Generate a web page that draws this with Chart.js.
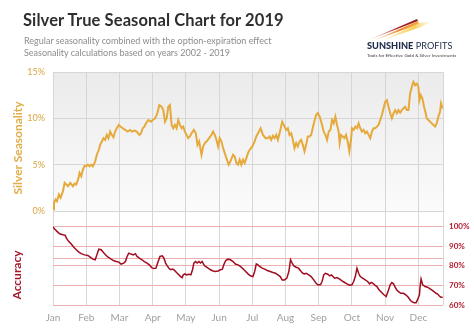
<!DOCTYPE html>
<html>
<head>
<meta charset="utf-8">
<script src="https://cdn.jsdelivr.net/npm/chart.js@4.4.1/dist/chart.umd.min.js"></script>
<style>
  html, body { margin: 0; padding: 0; background: #fff; }
  #wrap { position: relative; width: 474px; height: 332px; overflow: hidden; font-family: Lato, "Open Sans", sans-serif; }
  canvas { position: absolute; left: 0; top: 0; }
  .txt { position: absolute; white-space: nowrap; z-index: 5; }
  #title { left: 23px; top: 10px; font-size: 16.5px; font-weight: 700; color: #2f2f2f; letter-spacing: 0.1px; }
  #sub1 { left: 24px; top: 35px; font-size: 9px; color: #8c8c8c; }
  #sub2 { left: 24px; top: 47px; font-size: 9px; color: #8c8c8c; }
  .axisTitle { position: absolute; white-space: nowrap; font-weight: 700; transform: translate(-50%, -50%) rotate(-90deg); z-index: 5; }
  #seasonTitle { left: 17px; top: 148px; font-size: 12px; color: #e2ae4c; }
  #accTitle { left: 16px; top: 275px; font-size: 12px; color: #a3192d; }
  #logo { position: absolute; left: 360px; top: 10px; width: 114px; height: 52px; z-index: 5; }
  #brand { position: absolute; left: 367px; top: 40px; font-size: 9.2px; color: #1d2a48; z-index: 5; white-space: nowrap; }
  #brand b { font-weight: 900; }
  #tagline { position: absolute; left: 367px; top: 52px; font-size: 4.6px; color: #3a3a3a; z-index: 5; white-space: nowrap; }
</style>
</head>
<body>
<div id="wrap">
  <canvas id="seasonChart" width="474" height="332"></canvas>
  <canvas id="accuracyChart" width="474" height="332"></canvas>
  <div class="txt" id="title">Silver True Seasonal Chart for 2019</div>
  <div class="txt" id="sub1">Regular seasonality combined with the option-expiration effect</div>
  <div class="txt" id="sub2">Seasonality calculations based on years 2002 - 2019</div>
  <div class="axisTitle" id="seasonTitle">Silver Seasonality</div>
  <div class="axisTitle" id="accTitle">Accuracy</div>
  <svg id="logo" viewBox="360 10 114 52" xmlns="http://www.w3.org/2000/svg">
    <defs>
      <linearGradient id="gRed" x1="0" y1="0" x2="1" y2="0">
        <stop offset="0" stop-color="#c0392b" stop-opacity="0"/>
        <stop offset="0.6" stop-color="#b3262a"/>
        <stop offset="1" stop-color="#8e1c22"/>
      </linearGradient>
      <linearGradient id="gOrange" x1="0" y1="0" x2="1" y2="0">
        <stop offset="0" stop-color="#f08a2c" stop-opacity="0"/>
        <stop offset="0.6" stop-color="#ee8a2e"/>
        <stop offset="1" stop-color="#f4a640"/>
      </linearGradient>
      <linearGradient id="gYellow" x1="0" y1="0" x2="1" y2="0">
        <stop offset="0" stop-color="#f7d36a" stop-opacity="0"/>
        <stop offset="0.7" stop-color="#f6cf5e"/>
        <stop offset="1" stop-color="#fbe79a" stop-opacity="0.3"/>
      </linearGradient>
    </defs>
    <polygon points="366,41 417,19 418,21" fill="url(#gRed)"/>
    <polygon points="370,42 418,21 419,24" fill="url(#gOrange)"/>
    <polygon points="378,42 419,23 430,22 421,27" fill="url(#gYellow)"/>
  </svg>
  <div id="brand"><b>SUNSHINE</b> PROFITS</div>
  <div id="tagline">Tools for Effective Gold &amp; Silver Investments</div>
</div>
<script>
// Month names on the x axis (index 0 = January)
const monthLabels = ['Jan', 'Feb', 'Mar', 'Apr', 'May', 'Jun', 'Jul', 'Aug', 'Sep', 'Oct', 'Nov', 'Dec'];
// Position of the last trading day, in months from January 1
const yearEnd = 11.74;

// Seasonality curve: position in months, cumulative seasonal return in %
const seasonMonth = [
  0.00, 0.03, 0.08, 0.12, 0.18, 0.23, 0.30, 0.35, 0.40, 0.45, 0.52, 0.60, 0.65, 0.70, 0.77, 0.80, 0.85, 0.90, 0.95, 1.00,
  1.05, 1.10, 1.15, 1.20, 1.27, 1.32, 1.38, 1.42, 1.47, 1.52, 1.57, 1.62, 1.67, 1.72, 1.77, 1.82, 1.87, 1.92, 1.98, 2.03,
  2.10, 2.17, 2.25, 2.32, 2.38, 2.45, 2.52, 2.60, 2.65, 2.70, 2.75, 2.80, 2.87, 2.95, 3.00, 3.07, 3.14, 3.20, 3.27, 3.32,
  3.37, 3.42, 3.47, 3.52, 3.57, 3.62, 3.67, 3.72, 3.77, 3.82, 3.87, 3.92, 3.97, 4.02, 4.07, 4.12, 4.17, 4.24, 4.30, 4.35,
  4.40, 4.47, 4.52, 4.57, 4.62, 4.70, 4.77, 4.82, 4.87, 4.92, 4.97, 5.02, 5.07, 5.12, 5.17, 5.22, 5.29, 5.34, 5.42, 5.47,
  5.52, 5.57, 5.62, 5.67, 5.72, 5.77, 5.82, 5.87, 5.92, 6.00, 6.07, 6.12, 6.20, 6.25, 6.32, 6.40, 6.47, 6.52, 6.57, 6.62,
  6.67, 6.72, 6.77, 6.82, 6.90, 6.97, 7.02, 7.07, 7.12, 7.17, 7.22, 7.27, 7.32, 7.37, 7.42, 7.47, 7.52, 7.57, 7.62, 7.67,
  7.72, 7.77, 7.84, 7.92, 7.97, 8.03, 8.10, 8.15, 8.20, 8.25, 8.30, 8.35, 8.40, 8.45, 8.50, 8.55, 8.60, 8.63, 8.67, 8.72,
  8.77, 8.82, 8.87, 8.92, 8.97, 9.00, 9.05, 9.10, 9.15, 9.20, 9.25, 9.30, 9.35, 9.40, 9.45, 9.50, 9.55, 9.60, 9.65, 9.70,
  9.75, 9.80, 9.85, 9.90, 9.95, 10.00, 10.05, 10.10, 10.15, 10.20, 10.25, 10.30, 10.35, 10.40, 10.45, 10.50, 10.55, 10.60, 10.65, 10.70,
  10.75, 10.80, 10.85, 10.90, 10.95, 11.00, 11.03, 11.07, 11.12, 11.17, 11.22, 11.25, 11.30, 11.35, 11.40, 11.45, 11.50, 11.55, 11.60, 11.65,
  11.68, 11.73
];
const seasonPct = [
  0.18, 0.89, 1.25, 1.07, 1.79, 1.43, 2.14, 3.04, 2.86, 2.68, 3.04, 2.68, 2.96, 2.86, 3.57, 4.11, 3.75, 4.46, 4.89, 4.82,
  5.00, 4.82, 5.00, 4.82, 5.36, 6.07, 6.61, 7.14, 7.50, 7.86, 7.68, 8.21, 7.86, 8.57, 8.21, 7.96, 8.57, 8.93, 9.29, 9.11,
  8.93, 8.75, 8.57, 8.75, 8.57, 8.68, 8.57, 8.21, 8.39, 8.93, 9.11, 9.46, 9.82, 9.64, 9.82, 10.00, 10.54, 11.43, 11.25, 10.89,
  9.64, 10.00, 11.25, 11.43, 9.29, 8.93, 9.29, 8.93, 9.82, 9.29, 8.93, 9.11, 8.57, 8.21, 7.86, 8.04, 8.39, 8.75, 8.39, 7.14,
  7.50, 6.07, 6.96, 7.32, 7.50, 7.86, 8.21, 8.57, 8.21, 7.68, 6.96, 7.86, 7.50, 6.79, 6.25, 5.71, 5.00, 5.36, 6.07, 5.89,
  5.18, 5.00, 5.54, 5.00, 5.54, 5.18, 5.71, 6.25, 6.61, 6.96, 7.50, 8.04, 8.57, 8.93, 8.21, 7.86, 7.86, 8.04, 7.68, 8.11,
  7.86, 8.21, 7.68, 8.39, 9.64, 9.11, 8.75, 8.93, 8.21, 8.39, 7.68, 6.79, 7.32, 6.96, 7.50, 7.68, 7.14, 6.43, 7.14, 8.04,
  8.04, 8.21, 9.29, 10.36, 10.57, 10.18, 9.29, 8.57, 8.21, 7.68, 8.57, 8.75, 9.82, 9.46, 10.18, 9.29, 8.57, 7.32, 8.21, 8.04,
  7.86, 8.21, 7.50, 6.43, 7.68, 8.93, 8.75, 9.11, 8.93, 9.46, 8.93, 8.57, 8.75, 8.39, 8.57, 8.21, 7.86, 8.57, 8.93, 8.93,
  9.11, 9.29, 9.82, 10.36, 11.07, 11.79, 11.96, 11.25, 10.54, 10.00, 10.54, 10.89, 10.54, 10.89, 10.61, 10.89, 11.07, 11.25, 10.89, 10.89,
  12.68, 13.39, 13.93, 13.57, 13.75, 13.39, 11.96, 12.50, 12.14, 11.25, 10.54, 10.00, 9.82, 9.64, 9.46, 9.29, 9.11, 9.46, 10.18, 10.71,
  11.61, 11.07
];

// Forecast accuracy: position in months, accuracy in %
const accuracyMonth = [
  0.00, 0.05, 0.12, 0.20, 0.30, 0.37, 0.40, 0.47, 0.55, 0.62, 0.70, 0.78, 0.85, 0.95, 1.05, 1.12, 1.20, 1.27, 1.32, 1.38,
  1.45, 1.52, 1.60, 1.67, 1.75, 1.82, 1.90, 1.98, 2.05, 2.13, 2.18, 2.23, 2.28, 2.35, 2.42, 2.48, 2.53, 2.60, 2.68, 2.75,
  2.83, 2.90, 2.97, 3.04, 3.10, 3.15, 3.22, 3.29, 3.34, 3.39, 3.44, 3.49, 3.54, 3.59, 3.64, 3.69, 3.74, 3.79, 3.84, 3.89,
  3.92, 3.97, 4.02, 4.10, 4.15, 4.20, 4.24, 4.29, 4.34, 4.39, 4.44, 4.49, 4.54, 4.59, 4.67, 4.74, 4.82, 4.89, 4.97, 5.04,
  5.10, 5.14, 5.20, 5.27, 5.34, 5.42, 5.49, 5.57, 5.64, 5.72, 5.80, 5.87, 5.94, 6.02, 6.07, 6.12, 6.17, 6.22, 6.30, 6.37,
  6.45, 6.54, 6.62, 6.70, 6.77, 6.84, 6.90, 6.97, 7.04, 7.10, 7.15, 7.20, 7.25, 7.32, 7.39, 7.47, 7.52, 7.57, 7.62, 7.70,
  7.77, 7.85, 7.92, 7.97, 8.05, 8.10, 8.15, 8.20, 8.27, 8.33, 8.38, 8.43, 8.48, 8.55, 8.63, 8.70, 8.78, 8.85, 8.92, 9.00,
  9.05, 9.10, 9.15, 9.20, 9.25, 9.32, 9.40, 9.47, 9.53, 9.58, 9.63, 9.68, 9.75, 9.82, 9.90, 9.97, 10.03, 10.10, 10.15, 10.20,
  10.25, 10.30, 10.35, 10.40, 10.47, 10.55, 10.63, 10.70, 10.75, 10.80, 10.87, 10.93, 10.97, 11.03, 11.05, 11.08, 11.13, 11.20, 11.27, 11.33,
  11.40, 11.47, 11.53, 11.58, 11.63, 11.68, 11.73
];
const accuracyPct = [
  99.8, 98.8, 97.6, 96.4, 95.9, 95.6, 94.2, 92.5, 91.1, 89.6, 88.2, 87.0, 86.2, 85.6, 85.3, 84.4, 83.4, 83.1, 85.6, 88.5,
  88.2, 86.8, 85.3, 84.3, 83.4, 82.7, 82.2, 81.9, 80.9, 81.4, 82.2, 84.8, 86.5, 86.0, 85.6, 86.2, 84.8, 83.9, 83.1, 82.2,
  81.4, 80.5, 79.1, 78.6, 78.8, 81.4, 84.8, 85.1, 83.9, 81.4, 80.0, 78.8, 78.0, 78.3, 78.0, 77.1, 76.2, 75.4, 74.5, 74.0,
  75.4, 75.9, 75.4, 75.7, 75.4, 78.0, 81.4, 82.2, 81.4, 82.2, 81.4, 82.2, 80.5, 79.7, 78.8, 78.0, 77.4, 77.1, 77.4, 78.0,
  78.3, 80.5, 82.7, 83.4, 83.1, 82.2, 80.9, 80.5, 79.7, 78.5, 77.1, 75.9, 74.9, 74.5, 77.1, 81.0, 80.5, 79.7, 78.8, 78.3,
  77.6, 77.1, 76.6, 76.2, 75.4, 74.5, 72.8, 72.8, 73.7, 77.1, 83.1, 81.4, 80.0, 79.3, 78.8, 77.1, 76.2, 75.9, 76.2, 75.4,
  74.5, 72.8, 71.1, 70.3, 70.3, 72.0, 75.4, 76.2, 75.7, 74.9, 75.4, 74.5, 73.7, 74.0, 73.2, 72.3, 71.5, 70.8, 70.1, 70.3,
  72.0, 74.5, 78.8, 76.2, 74.5, 73.7, 72.8, 72.0, 70.8, 71.5, 71.1, 70.3, 69.4, 67.7, 66.3, 65.1, 64.3, 67.7, 70.3, 71.5,
  70.8, 69.1, 67.7, 66.8, 66.0, 66.0, 65.1, 63.8, 62.6, 61.7, 61.2, 61.2, 62.6, 65.1, 69.4, 73.3, 70.3, 69.4, 69.1, 68.5,
  67.7, 66.8, 66.0, 65.6, 64.6, 63.9, 63.9
];

// Axis tick values
const monthTicks = [0, 1, 2, 3, 4, 5, 6, 7, 8, 9, 10, 11, yearEnd];
const seasonTicks = [0, 5, 10, 15];
const accuracyTicks = [60, 70, 80, 83.8, 90, 100];

const FONT = 'Lato, "Open Sans", sans-serif';

// Light grey vertical gradient behind the seasonality plot
const plotBackground = {
  id: 'plotBackground',
  beforeDraw(chart) {
    const { ctx, chartArea: a } = chart;
    const g = ctx.createLinearGradient(0, a.top, 0, a.bottom);
    g.addColorStop(0, '#ebebeb');
    g.addColorStop(1, '#fbfbfb');
    ctx.save();
    ctx.fillStyle = g;
    ctx.fillRect(a.left, a.top, a.right - a.left, a.bottom - a.top);
    ctx.restore();
  }
};

const setTicks = (values) => (scale) => { scale.ticks = values.map(v => ({ value: v })); };

new Chart(document.getElementById('seasonChart'), {
  type: 'line',
  data: {
    datasets: [{
      data: seasonMonth.map((m, i) => ({ x: m, y: seasonPct[i] })),
      borderColor: '#e6a93b',
      borderWidth: 2,
      pointRadius: 0,
      tension: 0,
      fill: false
    }]
  },
  options: {
    responsive: false,
    animation: false,
    layout: { padding: { left: 0, right: 31, top: 72, bottom: 121 } },
    plugins: { legend: { display: false }, tooltip: { enabled: false } },
    scales: {
      x: {
        type: 'linear', min: 0, max: yearEnd,
        afterBuildTicks: setTicks(monthTicks),
        ticks: { display: false },
        grid: { color: '#d6d6d6', lineWidth: 1, drawTicks: false },
        border: { display: false },
        afterFit: (s) => { s.height = 0; }
      },
      y: {
        min: 0, max: 15,
        afterBuildTicks: setTicks(seasonTicks),
        ticks: { callback: (v) => v + '%', color: '#dba640', font: { family: FONT, size: 9 }, padding: 8 },
        grid: { color: '#d6d6d6', lineWidth: 1, drawTicks: false },
        border: { display: false },
        afterFit: (s) => { s.width = 53; }
      }
    }
  },
  plugins: [plotBackground]
});

new Chart(document.getElementById('accuracyChart'), {
  type: 'line',
  data: {
    datasets: [{
      data: accuracyMonth.map((m, i) => ({ x: m, y: accuracyPct[i] })),
      borderColor: '#a10d20',
      borderWidth: 1.5,
      pointRadius: 0,
      tension: 0,
      fill: false
    }]
  },
  options: {
    responsive: false,
    animation: false,
    layout: { padding: { left: 53, right: 0, top: 211, bottom: 0 } },
    plugins: { legend: { display: false }, tooltip: { enabled: false } },
    scales: {
      x: {
        type: 'linear', min: 0, max: yearEnd,
        afterBuildTicks: setTicks(monthTicks),
        ticks: {
          callback: (v) => Number.isInteger(v) ? monthLabels[v] : '',
          color: '#a0a0a0', font: { family: FONT, size: 10 }, padding: 7,
          autoSkip: false, maxRotation: 0
        },
        grid: { color: '#dcd6d6', lineWidth: 1, drawTicks: false },
        border: { display: false },
        afterFit: (s) => { s.height = 27; }
      },
      y: {
        position: 'right', min: 60, max: 108,
        afterBuildTicks: setTicks(accuracyTicks),
        ticks: {
          callback: (v) => (v % 10 === 0 ? v + '%' : ''),
          color: '#b41a2e', font: { family: FONT, size: 8, weight: 'bold' }, padding: 6
        },
        grid: { color: '#eab0b0', lineWidth: 1, drawTicks: false },
        border: { display: false },
        afterFit: (s) => { s.width = 31; }
      }
    }
  }
});
</script>
</body>
</html>
